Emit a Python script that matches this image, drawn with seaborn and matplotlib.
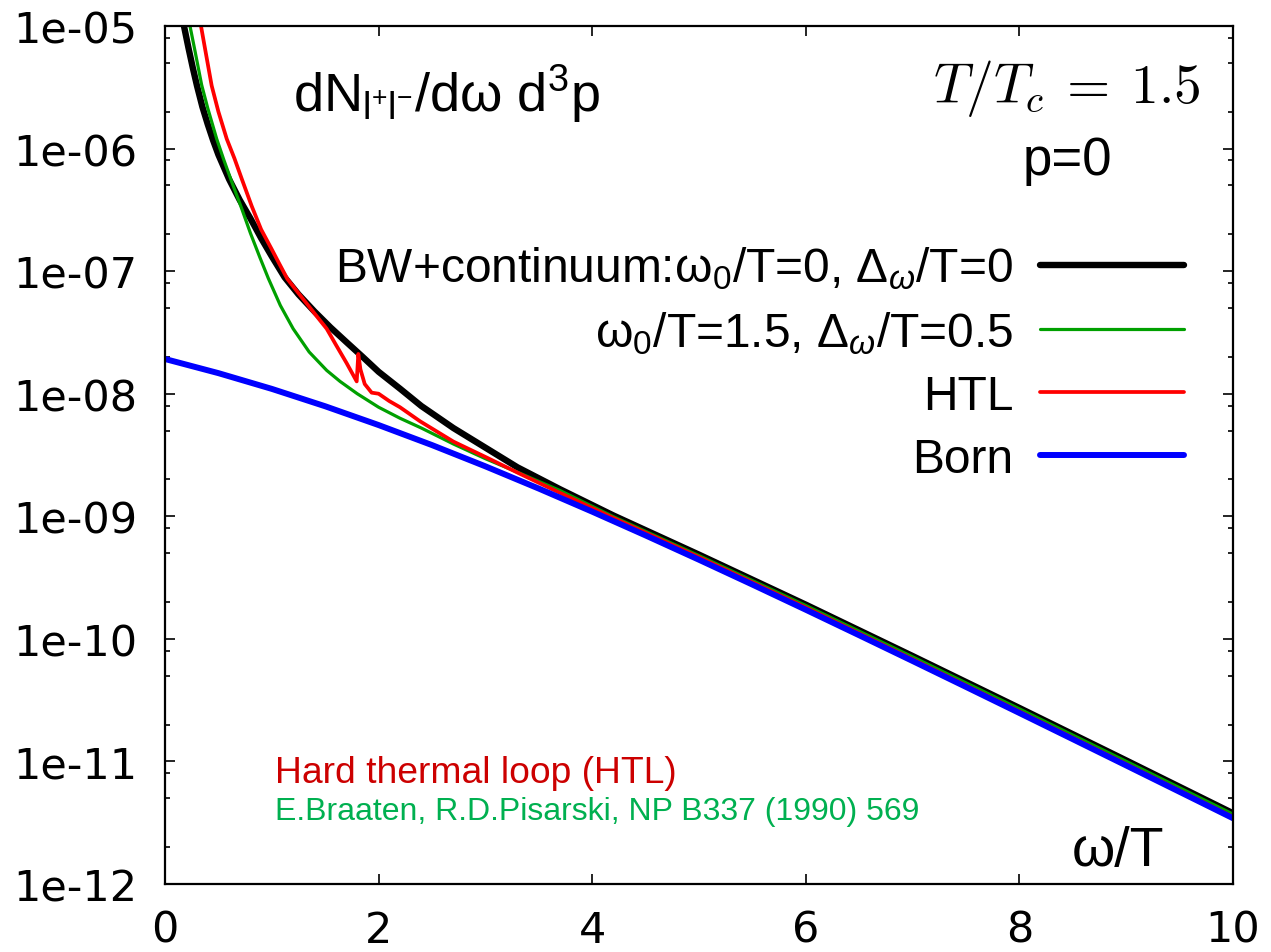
import matplotlib
matplotlib.use("Agg")
import matplotlib.pyplot as plt
from matplotlib.ticker import FixedLocator, LogLocator, FuncFormatter, NullFormatter
import numpy as np
import pandas as pd
import seaborn as sns

# --- data: dilepton rate dN/dw d^3p at p=0 versus w/T ---------------------
bw0_w = [0.16, 0.18, 0.22, 0.26, 0.30, 0.35, 0.40, 0.45, 0.50, 0.60, 0.70, 0.80,
         0.90, 1.00, 1.12, 1.25, 1.40, 1.55, 1.70, 1.85, 2.0, 2.2, 2.4, 2.7, 3.0,
         3.3, 3.7, 4.2, 5, 6, 7, 8, 9, 10]
bw0_rate = [1.20e-5, 9.77e-6, 6.61e-6, 4.57e-6, 3.24e-6, 2.19e-6, 1.58e-6, 1.17e-6,
            8.91e-7, 5.62e-7, 3.80e-7, 2.69e-7, 1.86e-7, 1.32e-7, 8.91e-8, 6.46e-8,
            4.68e-8, 3.47e-8, 2.63e-8, 2.00e-8, 1.51e-8, 1.10e-8, 7.94e-9, 5.25e-9,
            3.63e-9, 2.51e-9, 1.66e-9, 1.014e-9, 4.864e-10, 1.901e-10, 7.244e-11,
            2.729e-11, 1.019e-11, 3.776e-12]

bw15_w = [0.20, 0.234, 0.28, 0.343, 0.40, 0.484, 0.55, 0.62, 0.718, 0.80, 0.889,
          0.968, 1.08, 1.20, 1.35, 1.514, 1.639, 1.8, 2.0, 2.2, 2.4, 2.7, 3.0, 3.3,
          3.7, 4.2, 5, 6, 7, 8, 9, 10]
bw15_rate = [1.41e-5, 1.00e-5, 6.31e-6, 3.31e-6, 2.14e-6, 1.20e-6, 8.13e-7, 5.50e-7,
             3.24e-7, 2.04e-7, 1.29e-7, 8.71e-8, 5.25e-8, 3.39e-8, 2.19e-8, 1.55e-8,
             1.26e-8, 1.00e-8, 7.76e-9, 6.31e-9, 5.25e-9, 3.89e-9, 2.95e-9, 2.29e-9,
             1.62e-9, 9.91e-10, 4.775e-10, 1.871e-10, 7.13e-11, 2.685e-11,
             1.002e-11, 3.715e-12]

htl_w = [0.30, 0.337, 0.38, 0.437, 0.50, 0.578, 0.65, 0.72, 0.812, 0.90, 0.999,
         1.07, 1.146, 1.25, 1.35, 1.45, 1.514, 1.60, 1.70, 1.795, 1.81, 1.83, 1.87,
         1.935, 2.0, 2.1, 2.2, 2.388, 2.7, 3.01, 3.324, 3.7, 4.2, 5, 6, 7, 8, 9, 10]
htl_rate = [1.58e-5, 1.00e-5, 6.17e-6, 3.26e-6, 2.00e-6, 1.20e-6, 8.32e-7, 5.62e-7,
            3.39e-7, 2.19e-7, 1.51e-7, 1.15e-7, 8.63e-8, 6.61e-8, 5.13e-8, 3.98e-8,
            3.39e-8, 2.51e-8, 1.78e-8, 1.26e-8, 2.11e-8, 1.58e-8, 1.20e-8, 1.02e-8,
            1.00e-8, 8.71e-9, 7.76e-9, 5.96e-9, 4.07e-9, 3.02e-9, 2.22e-9, 1.55e-9,
            9.68e-10, 4.645e-10, 1.803e-10, 6.823e-11, 2.559e-11, 9.528e-12,
            3.524e-12]

born_w = [0, 0.5, 1, 1.5, 2, 2.5, 3, 3.5, 4, 4.5, 5, 5.5, 6, 6.5, 7, 7.5, 8, 8.5,
          9, 9.5, 10]
born_rate = [1.92e-8, 1.472e-8, 1.095e-8, 7.90e-9, 5.55e-9, 3.81e-9, 2.556e-9,
             1.683e-9, 1.091e-9, 6.98e-10, 4.42e-10, 2.773e-10, 1.728e-10,
             1.070e-10, 6.60e-11, 4.055e-11, 2.485e-11, 1.519e-11, 9.27e-12,
             5.650e-12, 3.44e-12]

labels = ["BW+continuum:ω$_0$/T=0, Δ$_\\omega$/T=0",
          "ω$_0$/T=1.5, Δ$_\\omega$/T=0.5",
          "HTL",
          "Born"]
x_ticks = [0, 2, 4, 6, 8, 10]
y_ticks = [1e-12, 1e-11, 1e-10, 1e-9, 1e-8, 1e-7, 1e-6, 1e-5]

# --- style -----------------------------------------------------------------
sns.set_theme(style="ticks")
plt.rcParams["font.family"] = ["Liberation Sans", "DejaVu Sans"]
plt.rcParams["mathtext.fontset"] = "custom"
plt.rcParams["mathtext.rm"] = "Liberation Sans"
plt.rcParams["mathtext.it"] = "Liberation Sans:italic"
plt.rcParams["mathtext.sf"] = "Liberation Sans"
plt.rcParams["axes.linewidth"] = 1.6
plt.rcParams["text.color"] = "black"
plt.rcParams["legend.labelcolor"] = "black"

W, H = 1271, 953
fig = plt.figure(figsize=(W / 100, H / 100), dpi=100)
L, R, T, B = 165, 1233, 27, 885
ax = fig.add_axes([L / W, 1 - B / H, (R - L) / W, (B - T) / H])

series = [
    (bw0_w, bw0_rate, labels[0], "#000000", 4.6),
    (bw15_w, bw15_rate, labels[1], "#00a000", 2.3),
    (htl_w, htl_rate, labels[2], "#ff0000", 2.7),
    (born_w, born_rate, labels[3], "#0000ff", 4.3),
]
for xs, ys, lab, col, lw in series:
    df = pd.DataFrame({"w": xs, "rate": ys})
    sns.lineplot(data=df, x="w", y="rate", ax=ax, color=col, linewidth=lw,
                 label=lab, sort=False, estimator=None)

ax.set_yscale("log")
ax.set_xlim(0, 10)
ax.set_ylim(1e-12, 1e-5)
ax.set_xlabel("")
ax.set_ylabel("")

ax.xaxis.set_major_locator(FixedLocator(x_ticks))
ax.yaxis.set_major_locator(FixedLocator(y_ticks))
ax.yaxis.set_minor_locator(LogLocator(base=10, subs=[2, 5, 8]))
ax.yaxis.set_minor_formatter(NullFormatter())
ax.yaxis.set_major_formatter(FuncFormatter(lambda v, p: "%.0e" % v))
ax.xaxis.set_major_formatter(FuncFormatter(lambda v, p: "%d" % v))

ax.tick_params(which="both", direction="in", top=True, right=True, width=1.2,
               colors="black")
ax.tick_params(which="major", length=7.5)
ax.tick_params(which="minor", length=3.8)
ax.tick_params(axis="y", which="major", pad=20)
ax.tick_params(axis="x", which="major", pad=18)
for lab in ax.get_yticklabels():
    lab.set_fontfamily("DejaVu Sans")
    lab.set_fontsize(31)
for lab in ax.get_xticklabels():
    lab.set_fontfamily("DejaVu Sans")
    lab.set_fontsize(31)
for s in ax.spines.values():
    s.set_color("black")

leg = ax.legend(loc="upper right", bbox_to_anchor=(0.954, 0.745),
                frameon=False, markerfirst=False, fontsize=34.5,
                handlelength=3.0, handletextpad=0.56, labelspacing=0.37,
                borderaxespad=0.0, borderpad=0.0)
for t in leg.get_texts():
    t.set_ha("right")
    t.set_color("black")

def fx(px):
    return (px - L) / (R - L)

def fy(py):
    return (B - py) / (B - T)

ax.text(fx(293), fy(112), "dN$_{\\mathrm{l}^{+}\\mathrm{l}^{-}}$/dω d$^{3}$p",
        transform=ax.transAxes, fontsize=39, ha="left", va="baseline")
ax.text(fx(1200), fy(103), r"$T/T_c\:=\:1.5$", transform=ax.transAxes,
        fontsize=40, ha="right", va="baseline", math_fontfamily="cm")
ax.text(fx(1067), fy(175), "p=0", transform=ax.transAxes, fontsize=38,
        ha="center", va="baseline")
ax.text(fx(1118), fy(866), "ω/T", transform=ax.transAxes, fontsize=40,
        ha="center", va="baseline")
ax.text(fx(275), fy(783), "Hard thermal loop (HTL)", transform=ax.transAxes,
        fontsize=26.8, ha="left", va="baseline", color="#cc0000")
ax.text(fx(275), fy(820), "E.Braaten, R.D.Pisarski, NP B337 (1990) 569",
        transform=ax.transAxes, fontsize=23, ha="left", va="baseline",
        color="#00b050")

fig.savefig("out.png", dpi=100)
